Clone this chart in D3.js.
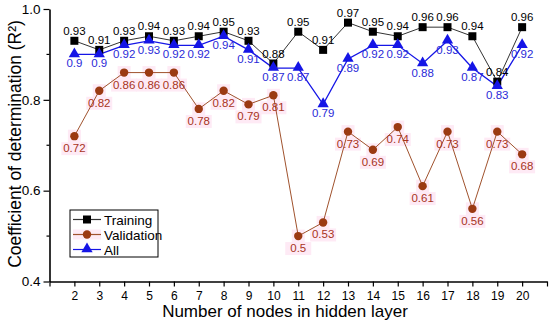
<!DOCTYPE html>
<html>
<head>
<meta charset="UTF-8">
<title>R2 vs hidden nodes</title>
<script src="https://d3js.org/d3.v7.min.js"></script>
<style>
  body { margin: 0; background: #fff; }
  svg text { font-family: "Liberation Sans", Arial, sans-serif; }
</style>
</head>
<body>
<script>
// data
var nodes = [2, 3, 4, 5, 6, 7, 8, 9, 10, 11, 12, 13, 14, 15, 16, 17, 18, 19, 20];
var training   = [0.93, 0.91, 0.93, 0.94, 0.93, 0.94, 0.95, 0.93, 0.88, 0.95, 0.91, 0.97, 0.95, 0.94, 0.96, 0.96, 0.94, 0.84, 0.96];
var validation = [0.72, 0.82, 0.86, 0.86, 0.86, 0.78, 0.82, 0.79, 0.81, 0.5, 0.53, 0.73, 0.69, 0.74, 0.61, 0.73, 0.56, 0.73, 0.68];
var all        = [0.9, 0.9, 0.92, 0.93, 0.92, 0.92, 0.94, 0.91, 0.87, 0.87, 0.79, 0.89, 0.92, 0.92, 0.88, 0.93, 0.87, 0.83, 0.92];
var yTicks = [0.4, 0.6, 0.8, 1.0];
var yMinor = [0.5, 0.7, 0.9];

var W = 550, H = 324;
var svg = d3.select("body").append("svg").attr("width", W).attr("height", H);

var x = d3.scaleLinear().domain([1, 21]).range([49.5, 547]);
var y = d3.scaleLinear().domain([0.4, 1.0]).range([281.5, 9]);

// axes
var xAxis = d3.axisBottom(x)
    .tickValues(d3.range(1, 22))
    .tickFormat(function(d){ return (d >= 2 && d <= 20) ? d : ""; })
    .tickSize(5).tickSizeOuter(0);
var gx = svg.append("g").attr("transform", "translate(0," + y(0.4) + ")").call(xAxis);
gx.select(".domain").attr("stroke-width", 1.6);
gx.selectAll(".tick line").attr("stroke-width", 1.2);
gx.selectAll("text").attr("font-size", 12).attr("dy", "0.9em");

var yAxis = d3.axisLeft(y).tickValues(yTicks).tickFormat(d3.format(".1f")).tickSize(6).tickSizeOuter(0);
var gy = svg.append("g").attr("transform", "translate(" + x(1) + ",0)").call(yAxis);
gy.select(".domain").attr("stroke-width", 1.6);
gy.selectAll(".tick line").attr("stroke-width", 1.2);
gy.selectAll("text").attr("font-size", 13.5).attr("x", -9);
gy.selectAll(".minor").data(yMinor).enter().append("line")
  .attr("x1", -3).attr("x2", 0)
  .attr("y1", function(d){ return y(d); }).attr("y2", function(d){ return y(d); })
  .attr("stroke", "#000").attr("stroke-width", 1.2);
svg.selectAll(".domain").attr("stroke", "#000");

// axis titles
svg.append("text").attr("x", 285).attr("y", 317).attr("text-anchor", "middle")
  .attr("font-size", 17).text("Number of nodes in hidden layer");
svg.append("text").attr("transform", "translate(21,144) rotate(-90)").attr("text-anchor", "middle")
  .attr("font-size", 17.5).text("Coefficient of determination (R²)");

var line = d3.line().x(function(d, i){ return x(nodes[i]); }).y(function(d){ return y(d); });

var pink = "#feeaf5";
var valCol = "#9b3a12", valLine = "#a0522d", valText = "#a8341c";
var blue = "#1515e6", blueText = "#2a2ad8";

// pink highlights behind validation markers and labels
var hl = svg.append("g");
hl.selectAll("rect.m").data(validation).enter().append("rect")
  .attr("x", function(d, i){ return x(nodes[i]) - 6.5; }).attr("y", function(d){ return y(d) - 6.5; })
  .attr("width", 13).attr("height", 13).attr("fill", pink);
hl.selectAll("rect.l").data(validation).enter().append("rect")
  .attr("x", function(d, i){ return x(nodes[i]) - 13; }).attr("y", function(d){ return y(d) + 6; })
  .attr("width", 26).attr("height", 13).attr("fill", pink);

// lines
svg.append("path").datum(training).attr("d", line).attr("fill", "none").attr("stroke", "#333").attr("stroke-width", 1);
svg.append("path").datum(validation).attr("d", line).attr("fill", "none").attr("stroke", valLine).attr("stroke-width", 1);
svg.append("path").datum(all).attr("d", line).attr("fill", "none").attr("stroke", blue).attr("stroke-width", 1.3);

// markers
svg.selectAll(".sq").data(training).enter().append("rect")
  .attr("x", function(d, i){ return x(nodes[i]) - 4; }).attr("y", function(d){ return y(d) - 4; })
  .attr("width", 8).attr("height", 8).attr("fill", "#000");
svg.selectAll(".ci").data(validation).enter().append("circle")
  .attr("cx", function(d, i){ return x(nodes[i]); }).attr("cy", function(d){ return y(d); })
  .attr("r", 4.2).attr("fill", valCol);
var tri = d3.symbol().type(d3.symbolTriangle).size(55);
svg.selectAll(".tr").data(all).enter().append("path")
  .attr("d", tri)
  .attr("transform", function(d, i){ return "translate(" + x(nodes[i]) + "," + (y(d) - 0.5) + ")"; })
  .attr("fill", blue);

// value labels
svg.selectAll(".lt").data(training).enter().append("text")
  .attr("x", function(d, i){ return x(nodes[i]); }).attr("y", function(d){ return y(d) - 6; })
  .attr("text-anchor", "middle").attr("font-size", 11.5).attr("fill", "#000")
  .text(function(d){ return d; });
svg.selectAll(".lv").data(validation).enter().append("text")
  .attr("x", function(d, i){ return x(nodes[i]); }).attr("y", function(d){ return y(d) + 16; })
  .attr("text-anchor", "middle").attr("font-size", 11.5).attr("fill", valText)
  .text(function(d){ return d; });
svg.selectAll(".la").data(all).enter().append("text")
  .attr("x", function(d, i){ return x(nodes[i]); }).attr("y", function(d){ return y(d) + 13; })
  .attr("text-anchor", "middle").attr("font-size", 11.5).attr("fill", blueText)
  .text(function(d){ return d; });

// legend
var lg = svg.append("g").attr("transform", "translate(70,210)");
lg.append("rect").attr("width", 88).attr("height", 47).attr("fill", "#fff").attr("stroke", "#000").attr("stroke-width", 1);
var items = [
  {name: "Training", col: "#333", mk: "sq"},
  {name: "Validation", col: valLine, mk: "ci"},
  {name: "All", col: blue, mk: "tr"}
];
items.forEach(function(it, i){
  var yy = 9.5 + i * 15;
  if (it.mk == "ci") lg.append("rect").attr("x", 3).attr("y", yy - 5).attr("width", 28).attr("height", 10).attr("fill", pink);
  lg.append("line").attr("x1", 3).attr("x2", 31).attr("y1", yy).attr("y2", yy).attr("stroke", it.col).attr("stroke-width", 1.2);
  if (it.mk == "sq") lg.append("rect").attr("x", 13).attr("y", yy - 4).attr("width", 8).attr("height", 8).attr("fill", "#000");
  if (it.mk == "ci") lg.append("circle").attr("cx", 17).attr("cy", yy).attr("r", 4.2).attr("fill", valCol);
  if (it.mk == "tr") lg.append("path").attr("d", tri).attr("transform", "translate(17," + (yy - 0.5) + ")").attr("fill", blue);
  lg.append("text").attr("x", 34).attr("y", yy + 5).attr("font-size", 13.5).text(it.name);
});
</script>
</body>
</html>
